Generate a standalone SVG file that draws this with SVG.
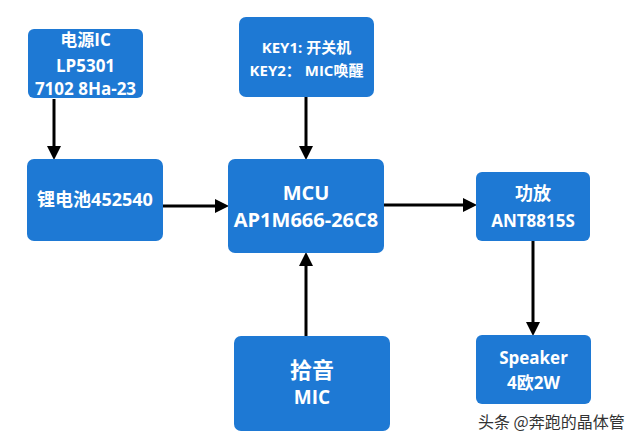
<svg xmlns="http://www.w3.org/2000/svg" width="640" height="441" viewBox="0 0 640 441">
<style>
.box{fill:#1E79D4;}
.t{fill:#FFFFFF;font-family:"Open Sans","Noto Sans CJK SC",sans-serif;font-weight:bold;text-anchor:middle;}
.c{stroke:#000000;stroke-width:3;fill:none;marker-end:url(#ah);}
.wm{fill:#333333;font-family:"Noto Sans CJK SC",sans-serif;font-size:16px;}
</style>
<defs>
<marker id="ah" markerUnits="userSpaceOnUse" markerWidth="14" markerHeight="14" refX="0" refY="7" orient="auto">
<path d="M0,0 L14,7 L0,14 z" fill="#000000"/>
</marker>
</defs>
<rect x="0" y="0" width="640" height="441" fill="#FFFFFF"/>
<g id="connectors">
<line class="c" x1="54" y1="99" x2="54" y2="146"/>
<line class="c" x1="163" y1="206" x2="215" y2="206"/>
<line class="c" x1="384" y1="205" x2="463" y2="205"/>
<line class="c" x1="533" y1="241" x2="533" y2="322"/>
<line class="c" x1="306" y1="336" x2="306" y2="266"/>
<line class="c" x1="306" y1="97" x2="306" y2="146"/>
</g>
<g id="power-ic">
<rect class="box" x="28" y="29" width="115" height="69" rx="6"/>
<text class="t" x="85.5" y="46" font-size="17">电源IC</text>
<text class="t" x="85.5" y="72" font-size="17">LP5301</text>
<text class="t" x="85.5" y="95" font-size="17">7102 8Ha-23</text>
</g>
<g id="keys">
<rect class="box" x="239" y="17" width="135" height="80" rx="7"/>
<text class="t" x="306.5" y="53" font-size="15">KEY1: 开关机</text>
<text class="t" x="306.5" y="75.5" font-size="15">KEY2： MIC唤醒</text>
</g>
<g id="battery">
<rect class="box" x="27" y="159" width="136" height="82" rx="7"/>
<text class="t" x="95" y="205.5" font-size="18">锂电池452540</text>
</g>
<g id="mcu">
<rect class="box" x="228" y="159" width="156" height="94" rx="7"/>
<text class="t" x="306" y="200" font-size="20">MCU</text>
<text class="t" x="306" y="227" font-size="20">AP1M666-26C8</text>
</g>
<g id="amp">
<rect class="box" x="476" y="172" width="114" height="69" rx="6"/>
<text class="t" x="533" y="200" font-size="18">功放</text>
<text class="t" x="533" y="226.5" font-size="17">ANT8815S</text>
</g>
<g id="mic">
<rect class="box" x="234" y="336" width="156" height="95" rx="7"/>
<text class="t" x="312" y="378" font-size="22">拾音</text>
<text class="t" x="312" y="404" font-size="19">MIC</text>
</g>
<g id="speaker">
<rect class="box" x="476" y="335" width="115" height="69" rx="6"/>
<text class="t" x="533.5" y="364" font-size="17">Speaker</text>
<text class="t" x="533.5" y="389" font-size="17">4欧2W</text>
</g>
<text class="wm" x="478" y="428">头条 @奔跑的晶体管</text>
</svg>
